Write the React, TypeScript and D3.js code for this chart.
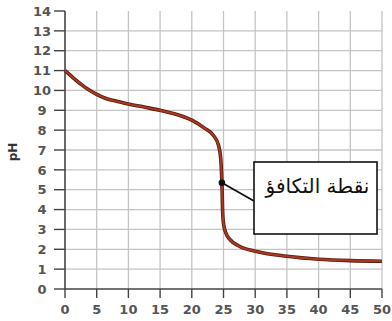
import React from "react";
import * as d3 from "d3";

const xTicks = [0, 5, 10, 15, 20, 25, 30, 35, 40, 45, 50];
const yTicks = [0, 1, 2, 3, 4, 5, 6, 7, 8, 9, 10, 11, 12, 13, 14];
const volume = [0, 1.25, 2.5, 3.75, 5, 6.25, 7.5, 10, 12.5, 15, 17.5, 20, 22, 23.5, 24.2, 24.55, 24.7, 24.78, 24.85, 25.0, 25.4, 26, 27.5, 30, 35, 40, 45, 50];
const ph = [11, 10.65, 10.32, 10.03, 9.8, 9.62, 9.5, 9.32, 9.16, 9.0, 8.8, 8.5, 8.1, 7.7, 7.25, 6.6, 5.8, 5.0, 4.0, 3.3, 2.8, 2.5, 2.15, 1.9, 1.65, 1.5, 1.43, 1.4];
const eqPoint = [24.75, 5.35];
const calloutLabel = "نقطة التكافؤ";
const yAxisLabel = "pH";

export default function App() {
  const x = d3.scaleLinear().domain([0, 50]).range([65, 382]);
  const y = d3.scaleLinear().domain([0, 14]).range([289, 11]);
  const pts: [number, number][] = volume.map((v, i) => [v, ph[i]]);
  const line = d3
    .line<[number, number]>()
    .x((d) => x(d[0]))
    .y((d) => y(d[1]))
    .curve(d3.curveMonotoneX);
  const axisColor = "#444";
  const labelColor = "#555";
  const gridColor = "#c4c4c4";
  const font = "'DejaVu Sans', Verdana, sans-serif";
  const bx = 254, by = 162, bw = 123, bh = 72;
  return (
    <svg
      width={392}
      height={321}
      style={{ position: "absolute", left: 0, top: 0, background: "#fff" }}
    >
      {/* grid */}
      {xTicks.filter((t) => t > 0).map((t) => (
        <line key={"gx" + t} x1={x(t)} x2={x(t)} y1={y(14)} y2={y(0)} stroke={gridColor} strokeWidth={1.3} />
      ))}
      {yTicks.filter((t) => t > 0 && t < 14).map((t) => (
        <line key={"gy" + t} x1={x(0)} x2={x(50)} y1={y(t)} y2={y(t)} stroke={gridColor} strokeWidth={1.3} />
      ))}
      {/* axes */}
      <line x1={x(0)} x2={x(0)} y1={y(14)} y2={y(0)} stroke={axisColor} strokeWidth={1.6} />
      <line x1={x(0)} x2={x(50)} y1={y(0)} y2={y(0)} stroke={axisColor} strokeWidth={1.6} />
      {yTicks.map((t) => (
        <g key={"yt" + t}>
          <line x1={x(0) - 11} x2={x(0)} y1={y(t)} y2={y(t)} stroke={axisColor} strokeWidth={1.4} />
          <text x={42} y={y(t)} dy="0.36em" textAnchor="middle" fontSize={13} fontWeight="bold" fill={labelColor} fontFamily={font}>
            {t}
          </text>
        </g>
      ))}
      {xTicks.map((t) => (
        <g key={"xt" + t}>
          <line x1={x(t)} x2={x(t)} y1={y(0)} y2={y(0) + 9} stroke={axisColor} strokeWidth={1.4} />
          <text x={x(t)} y={309} dy="0.36em" textAnchor="middle" fontSize={13} fontWeight="bold" fill={labelColor} fontFamily={font}>
            {t}
          </text>
        </g>
      ))}
      <text
        transform={`translate(17,${152}) rotate(-90)`}
        textAnchor="middle"
        fontSize={12}
        fontWeight="bold"
        fill="#333"
        fontFamily={font}
      >
        {yAxisLabel}
      </text>
      {/* curve */}
      <path d={line(pts) || ""} fill="none" stroke="#5a1a10" strokeWidth={3.6} />
      <path d={line(pts) || ""} fill="none" stroke="#a83a22" strokeWidth={2} />
      {/* callout */}
      <line x1={x(eqPoint[0])} y1={y(eqPoint[1])} x2={bx} y2={201} stroke="#111" strokeWidth={1.8} />
      <circle cx={x(eqPoint[0])} cy={y(eqPoint[1])} r={3.3} fill="#111" />
      <rect x={bx} y={by} width={bw} height={bh} fill="#fff" stroke="#111" strokeWidth={1.6} />
      <text
        x={bx + bw / 2 + 2}
        y={193}
        textAnchor="middle"
        fontSize={20}
        fill="#111"
        fontFamily="'DejaVu Sans', 'Noto Sans', sans-serif"
        direction="rtl"
      >
        {calloutLabel}
      </text>
    </svg>
  );
}
